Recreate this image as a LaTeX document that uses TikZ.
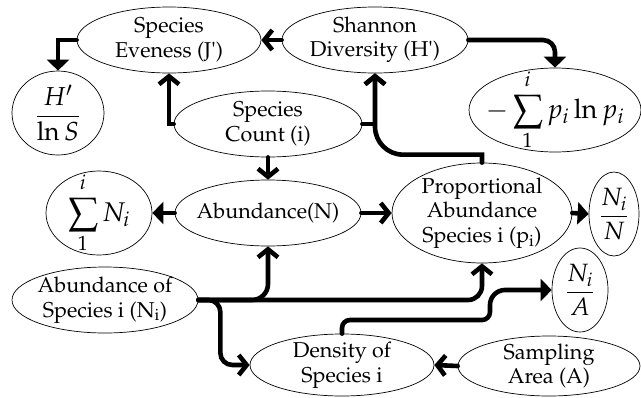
\documentclass[tikz,border=0pt]{standalone}
\usepackage[T1]{fontenc}
\usepackage{mathpazo}
\usetikzlibrary{arrows.meta,shapes.geometric}
\newcommand{\uplim}[1]{\raisebox{2.5pt}{$\scriptstyle #1$}}
\newcommand{\lowlim}[1]{\raisebox{-2.5pt}{$\scriptstyle #1$}}
\begin{document}
\begin{tikzpicture}[x=1pt,y=-1pt,
  txt/.style={font=\fontsize{21.5}{24.5}\selectfont, align=center, inner sep=0pt},
  mth/.style={font=\fontsize{#1}{#1}\selectfont, inner sep=0pt},
  ov/.style n args={2}{ellipse, draw, line width=0.7pt, inner sep=0pt, minimum width=#1pt, minimum height=#2pt},
  conn/.style={line width=4.6pt, line cap=round},
  chev/.style={conn, -{Straight Barb[length=8pt,width=20pt]}},
  tri/.style={conn, -{Triangle[length=11pt,width=22pt]}}]
\useasboundingbox (0,0) rectangle (641,397);

% ellipses
\node[ov={184}{66}] (even) at (169,40) {};
\node[ov={186}{66}] (shan) at (375,40) {};
\node[ov={92}{84}] (hlns) at (58,113) {};
\node[ov={188}{66}] (count) at (268,124) {};
\node[ov={172}{84}] (sump) at (555,110) {};
\node[ov={106}{84}] (sumN) at (99,213) {};
\node[ov={186}{66}] (abund) at (268,213) {};
\node[ov={180}{100}] (prop) at (482,213) {};
\node[ov={50}{84}] (NiN) at (614,214) {};
\node[ov={56}{84}] (NiA) at (580,290) {};
\node[ov={186}{66}] (abs) at (105,300) {};
\node[ov={184}{62}] (dens) at (342,365) {};
\node[ov={182}{60}] (samp) at (549,366) {};

% texts
\node[txt] (event) at (even.center) {Species\\Eveness (J\textquotesingle)};
\node[txt] (shant) at (shan.center) {Shannon\\Diversity (H\textquotesingle)};
\node[txt] (countt) at (count.center) {Species\\Count (i)};
\node[txt] (abundt) at (abund.center) {Abundance(N)};
\node[txt] (propt) at (prop.center) {Proportional\\Abundance\\Species i (p\textsubscript{i})};
\node[txt] (abst) at (abs.center) {Abundance of\\Species i (N\textsubscript{i})};
\node[txt] (denst) at (dens.center) {Density of\\Species i};
\node[txt] (sampt) at (samp.center) {Sampling\\Area (A)};
\node[mth=26] (hlnst) at (hlns.center) {$\displaystyle\frac{H'}{\ln S}$};
\node[mth=27] (sumpt) at (sump.center) {$\displaystyle -\sum_{\lowlim{1}}^{\uplim{i}} p_i \ln p_i$};
\node[mth=27] (sumNt) at (sumN.center) {$\displaystyle \sum_{\lowlim{1}}^{\uplim{i}} N_i$};
\node[mth=25] (NiNt) at (NiN.center) {$\displaystyle\frac{N_i}{N}$};
\node[mth=25] (NiAt) at (NiA.center) {$\displaystyle\frac{N_i}{A}$};

% connectors
\draw[chev] (shan.west) -- (even.east);
\draw[tri] (even.west) -| (hlns.north);
\draw[chev] (count.west) -| (even.south);
\draw[chev] (count.east) -| (shan.south);
\draw[chev] (prop.north) -- ++(0,-8) [rounded corners=28pt] -| (shan.south);
\draw[tri, rounded corners=12pt] (shan.east) -| (sump.north);
\draw[chev] (count.south) -- (abund.north);
\draw[tri] (abund.west) -- (sumN.east);
\draw[chev] (abund.east) -- (prop.west);
\draw[tri] (prop.east) -- (NiN.west);
\draw[chev, rounded corners=16pt] (abs.east) -| (abund.south);
\draw[chev, rounded corners=14pt] (abs.east) -| (prop.south);
\draw[chev, rounded corners=12pt] (abs.east) -- ++(22,0) |- (dens.west);
\draw[tri] (dens.north) [rounded corners=8pt] |- (490,320) [rounded corners=15pt] |- (NiA.west);
\draw[chev] (samp.west) -- (dens.east);
\end{tikzpicture}
\end{document}
